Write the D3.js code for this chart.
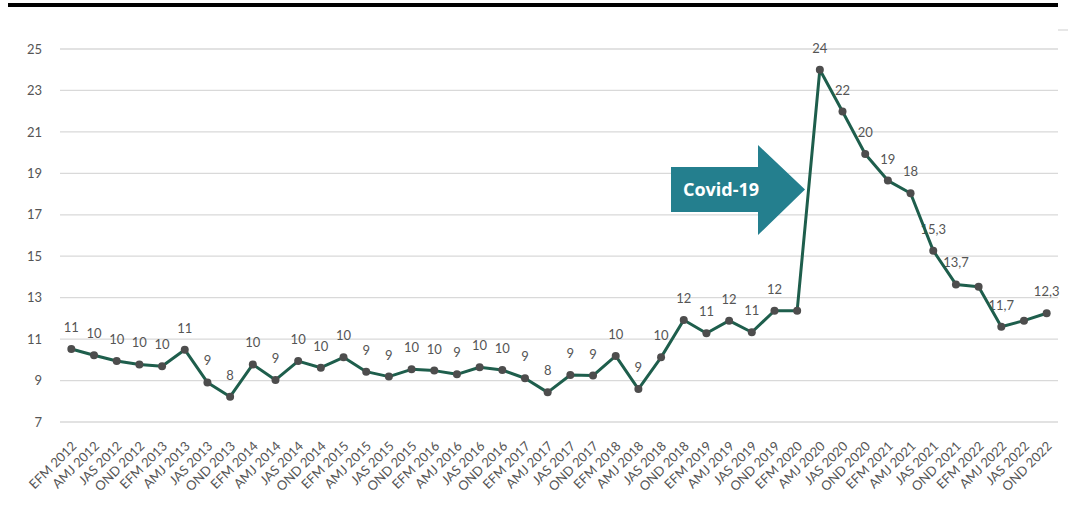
<!DOCTYPE html>
<html>
<head>
<meta charset="utf-8">
<script src="https://cdn.jsdelivr.net/npm/d3@7/dist/d3.min.js"></script>
<style>
  html, body { margin: 0; padding: 0; background: #ffffff; }
  svg { display: block; }
</style>
</head>
<body>
<svg id="chart" width="1068" height="520"></svg>
<script>
const categories = [
  "EFM 2012","AMJ 2012","JAS 2012","OND 2012",
  "EFM 2013","AMJ 2013","JAS 2013","OND 2013",
  "EFM 2014","AMJ 2014","JAS 2014","OND 2014",
  "EFM 2015","AMJ 2015","JAS 2015","OND 2015",
  "EFM 2016","AMJ 2016","JAS 2016","OND 2016",
  "EFM 2017","AMJ 2017","JAS 2017","OND 2017",
  "EFM 2018","AMJ 2018","JAS 2018","OND 2018",
  "EFM 2019","AMJ 2019","JAS 2019","OND 2019",
  "EFM 2020","AMJ 2020","JAS 2020","OND 2020",
  "EFM 2021","AMJ 2021","JAS 2021","OND 2021",
  "EFM 2022","AMJ 2022","JAS 2022","OND 2022"
];
const values = [
  10.52, 10.22, 9.94, 9.78, 9.69, 10.49, 8.91, 8.22,
  9.78, 9.03, 9.94, 9.62, 10.12, 9.43, 9.19, 9.54,
  9.48, 9.30, 9.64, 9.51, 9.11, 8.43, 9.27, 9.24,
  10.19, 8.59, 10.12, 11.92, 11.28, 11.89, 11.33, 12.37,
  12.37, 24.0, 21.98, 19.93, 18.65, 18.04, 15.27, 13.64,
  13.53, 11.6, 11.89, 12.25
];
const valueLabels = [
  "11","10","10","10","10","11","9","8",
  "10","9","10","10","10","9","9","10",
  "10","9","10","10","9","8","9","9",
  "10","9","10","12","11","12","11","12",
  "","24","22","20","19","18","15,3","13,7",
  "","11,7","","12,3"
];
const yTicks = [7, 9, 11, 13, 15, 17, 19, 21, 23, 25];
const annotationText = "Covid-19";

const svg = d3.select("#chart");
const FONT = "Lato, 'Open Sans', sans-serif";

const x = d3.scaleBand().domain(categories).range([60, 1058]);
const y = d3.scaleLinear().domain([7, 25]).range([422, 49]);
const cx = c => x(c) + x.bandwidth() / 2;

// top black rule
svg.append("rect").attr("x", 8).attr("y", 3).attr("width", 1050).attr("height", 4).attr("fill", "#000");
svg.append("line").attr("x1", 1058).attr("x2", 1068).attr("y1", 30).attr("y2", 30)
  .attr("stroke", "#cfcfcf").attr("stroke-width", 1);

// gridlines
svg.append("g").selectAll("line").data(yTicks).join("line")
  .attr("x1", 60).attr("x2", 1058)
  .attr("y1", d => y(d)).attr("y2", d => y(d))
  .attr("stroke", "#d9d9d9").attr("stroke-width", 1.3);

// y axis labels
const yAxis = d3.axisLeft(y).tickValues(yTicks).tickSize(0).tickPadding(0);
const gy = svg.append("g").attr("transform", "translate(42,0)").call(yAxis);
gy.select(".domain").remove();
gy.selectAll("text").attr("font-family", FONT).attr("font-size", 13).attr("fill", "#555555");

// x axis labels
const xAxis = d3.axisBottom(x).tickSize(0).tickPadding(0);
const gx = svg.append("g").attr("transform", "translate(0,440)").call(xAxis);
gx.select(".domain").remove();
gx.selectAll("text")
  .attr("font-family", FONT).attr("font-size", 13).attr("fill", "#555555")
  .attr("text-anchor", "end").attr("dy", 0).attr("y", 0)
  .attr("transform", "translate(6,7) rotate(-45)");

// data labels (drawn under the line)
svg.append("g").selectAll("text").data(categories).join("text")
  .attr("x", c => cx(c))
  .attr("y", (c, i) => y(values[i]) - 17)
  .attr("text-anchor", "middle")
  .attr("font-family", FONT).attr("font-size", 13).attr("fill", "#555555")
  .text((c, i) => valueLabels[i]);

// Covid arrow annotation
const ax0 = 671, ay0 = 167, ax1 = 758, ay1 = 212, atip = 805, ahTop = 145, ahBot = 235;
svg.append("path")
  .attr("d", `M${ax0},${ay0} L${ax1},${ay0} L${ax1},${ahTop} L${atip},${(ay0 + ay1) / 2} L${ax1},${ahBot} L${ax1},${ay1} L${ax0},${ay1} Z`)
  .attr("fill", "#247f8e");
svg.append("text")
  .attr("x", 721).attr("y", 196)
  .attr("text-anchor", "middle")
  .attr("font-family", "'Open Sans', sans-serif").attr("font-weight", 700)
  .attr("font-size", 18).attr("fill", "#ffffff")
  .text(annotationText);

// line
const line = d3.line().x((d, i) => cx(categories[i])).y(d => y(d));
svg.append("path").datum(values)
  .attr("d", line).attr("fill", "none")
  .attr("stroke", "#1e5e4c").attr("stroke-width", 3).attr("stroke-linejoin", "round");

// markers
svg.append("g").selectAll("circle").data(values).join("circle")
  .attr("cx", (d, i) => cx(categories[i])).attr("cy", d => y(d))
  .attr("r", 4).attr("fill", "#4d4d4d");
</script>
</body>
</html>
